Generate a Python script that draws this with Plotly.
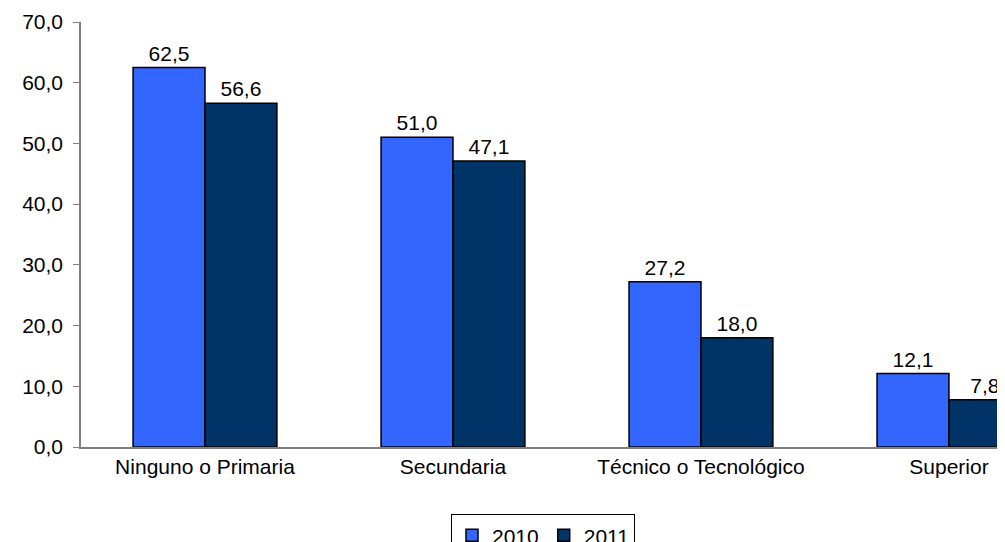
import plotly.graph_objects as go

categories = ["Ninguno o Primaria", "Secundaria", "Técnico o Tecnológico", "Superior"]
values_2010 = [62.5, 51.0, 27.2, 12.1]
values_2011 = [56.6, 47.1, 18.0, 7.8]
series_names = ["2010", "2011"]

FONT = "Liberation Sans, Arial, sans-serif"
FS = 21

fig = go.Figure()
for name, vals, color in [(series_names[0], values_2010, "#3366FF"),
                          (series_names[1], values_2011, "#003366")]:
    fig.add_trace(go.Bar(
        name=name, x=categories, y=vals,
        marker=dict(color=color, line=dict(color="black", width=1.5)),
        text=[f"{v:.1f}".replace(".", ",") for v in vals],
        textposition="outside", cliponaxis=False,
        textfont=dict(family=FONT, size=FS, color="black"),
    ))

fig.update_layout(
    width=997, height=534,
    margin=dict(l=73, r=0, t=14, b=95, autoexpand=False),
    paper_bgcolor="white", plot_bgcolor="white",
    barmode="group", bargap=0.42, bargroupgap=0,
    separators=",.",
    font=dict(family=FONT, size=FS, color="black"),
    showlegend=True,
    legend=dict(orientation="h", x=0.5, xanchor="center", y=-0.158, yanchor="top",
                bordercolor="black", borderwidth=1, font=dict(size=FS),
                itemwidth=30, bgcolor="white"),
)
fig.update_xaxes(
    range=[-0.5, 3.226], showline=True, linecolor="#808080", linewidth=1.5,
    ticks="", tickfont=dict(size=FS), showgrid=False,
)
fig.update_yaxes(
    range=[0, 70], dtick=10, tickformat=".1f", showline=True, linecolor="#808080",
    linewidth=1.5, ticks="outside", ticklen=6, tickcolor="#808080",
    showgrid=False, zeroline=False, tickfont=dict(size=FS), ticklabelstandoff=6,
)

fig.write_html("out.html")
